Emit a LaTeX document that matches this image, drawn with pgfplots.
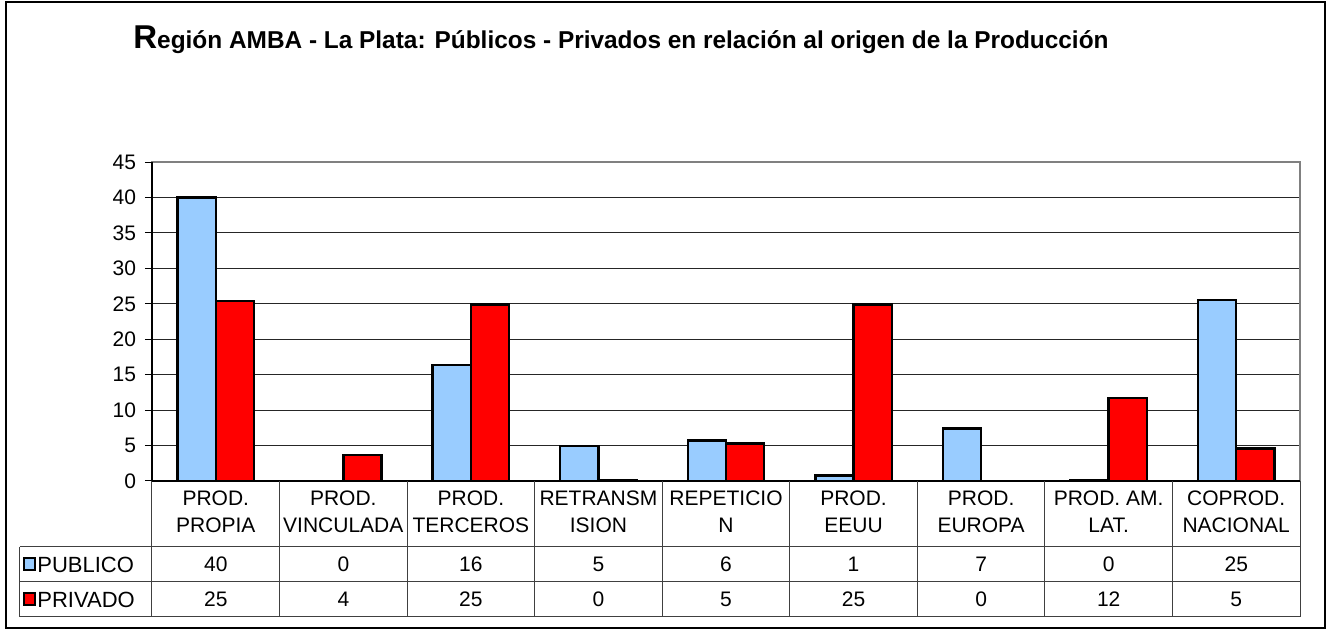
\documentclass[border=0pt]{standalone}
\usepackage{pgfplots}
\pgfplotsset{compat=1.18}
\usepackage{fontspec}
\setmainfont{Liberation Sans}

\definecolor{publico}{HTML}{99CCFF}
\definecolor{privado}{HTML}{FF0000}

\begin{document}
\begin{tikzpicture}
% pixel frame: 1px = 0.5pt, origin at top-left of the image
\begin{scope}[shift={(-76pt,240.5pt)},x=0.5pt,y=-0.5pt]
  \useasboundingbox (0,0) rectangle (1334,631);
\end{scope}

\begin{axis}[
    at={(0,0)}, anchor=south west,
    scale only axis,
    width=574pt, height=159.5pt,
    ybar=0pt,
    bar width=19.1pt,
    xmin=-0.5, xmax=8.5,
    ymin=0, ymax=45,
    xtick={0,...,8},
    xticklabels={PROD.\\PROPIA, PROD.\\VINCULADA, PROD.\\TERCEROS, RETRANSM\\ISION,
                 REPETICIO\\N, PROD.\\EEUU, PROD.\\EUROPA, PROD. AM.\\LAT., COPROD.\\NACIONAL},
    xtick style={draw=none},
    xticklabel style={font=\fontsize{10.5}{13.5}\selectfont, align=center,
                      anchor=north, inner sep=0pt, yshift=-1pt},
    ytick={0,5,...,45},
    ytick pos=left,
    yticklabel style={font=\fontsize{10.5}{12}\selectfont, xshift=-1pt},
    /pgf/number format/assume math mode=true,
    tick align=outside,
    major tick length=3.5pt,
    ytick style={black, line width=0.5pt},
    ymajorgrids,
    major grid style={black!85, line width=0.55pt},
    axis line style={black!50, line width=1.1pt},
    clip=false,
]
% PUBLICO
\addplot[fill=publico, draw=black, line width=1.2pt] coordinates {
    (0,40.0) (1,0) (2,16.4) (3,4.9) (4,5.7) (5,0.76) (6,7.4) (7,0.15) (8,25.5)
};
% PRIVADO
\addplot[fill=privado, draw=black, line width=1.2pt] coordinates {
    (0,25.4) (1,3.65) (2,24.9) (3,0.15) (4,5.3) (5,24.9) (6,0) (7,11.7) (8,4.6)
};
\end{axis}

% left and bottom axis lines in black
\draw[black, line width=0.8pt] (0,159.5pt) -- (0,0) -- (574pt,0);

\begin{scope}[shift={(-76pt,240.5pt)},x=0.5pt,y=-0.5pt]
  % outer frame
  \draw[black, line width=0.8pt] (6,2) rectangle (1325,628);
  % title
  \node[anchor=base west, inner sep=0pt, font=\bfseries\fontsize{12.2}{14}\selectfont]
    at (133,49) {{\fontsize{16.5}{16}\selectfont R}egión AMBA - La Plata: Públicos - Privados en relación al origen de la Producción};
  % data table grid
  \draw[black!75, line width=0.5pt]
    (20,547) -- (1300,547)
    (20,582) -- (1300,582)
    (20,617) -- (1300,617)
    (20,547) -- (20,617);
  \foreach \k in {0,...,9} {
    \draw[black!75, line width=0.5pt] ({152+\k*127.56},481) -- ({152+\k*127.56},617);
  }
  % legend keys
  \draw[fill=publico, line width=1.4pt] (24,558) rectangle (35,570);
  \draw[fill=privado, line width=1.4pt] (24,593) rectangle (35,605);
  \node[anchor=west, inner sep=0pt, font=\fontsize{11}{12}\selectfont] at (37,565) {PUBLICO};
  \node[anchor=west, inner sep=0pt, font=\fontsize{11}{12}\selectfont] at (37,600) {PRIVADO};
  % table values
  \foreach \v [count=\i from 0] in {40,0,16,5,6,1,7,0,25} {
    \node[font=\fontsize{10.5}{12}\selectfont] at ({152+(\i+0.5)*127.56},564) {\v};
  }
  \foreach \v [count=\i from 0] in {25,4,25,0,5,25,0,12,5} {
    \node[font=\fontsize{10.5}{12}\selectfont] at ({152+(\i+0.5)*127.56},599) {\v};
  }
\end{scope}
\end{tikzpicture}
\end{document}
